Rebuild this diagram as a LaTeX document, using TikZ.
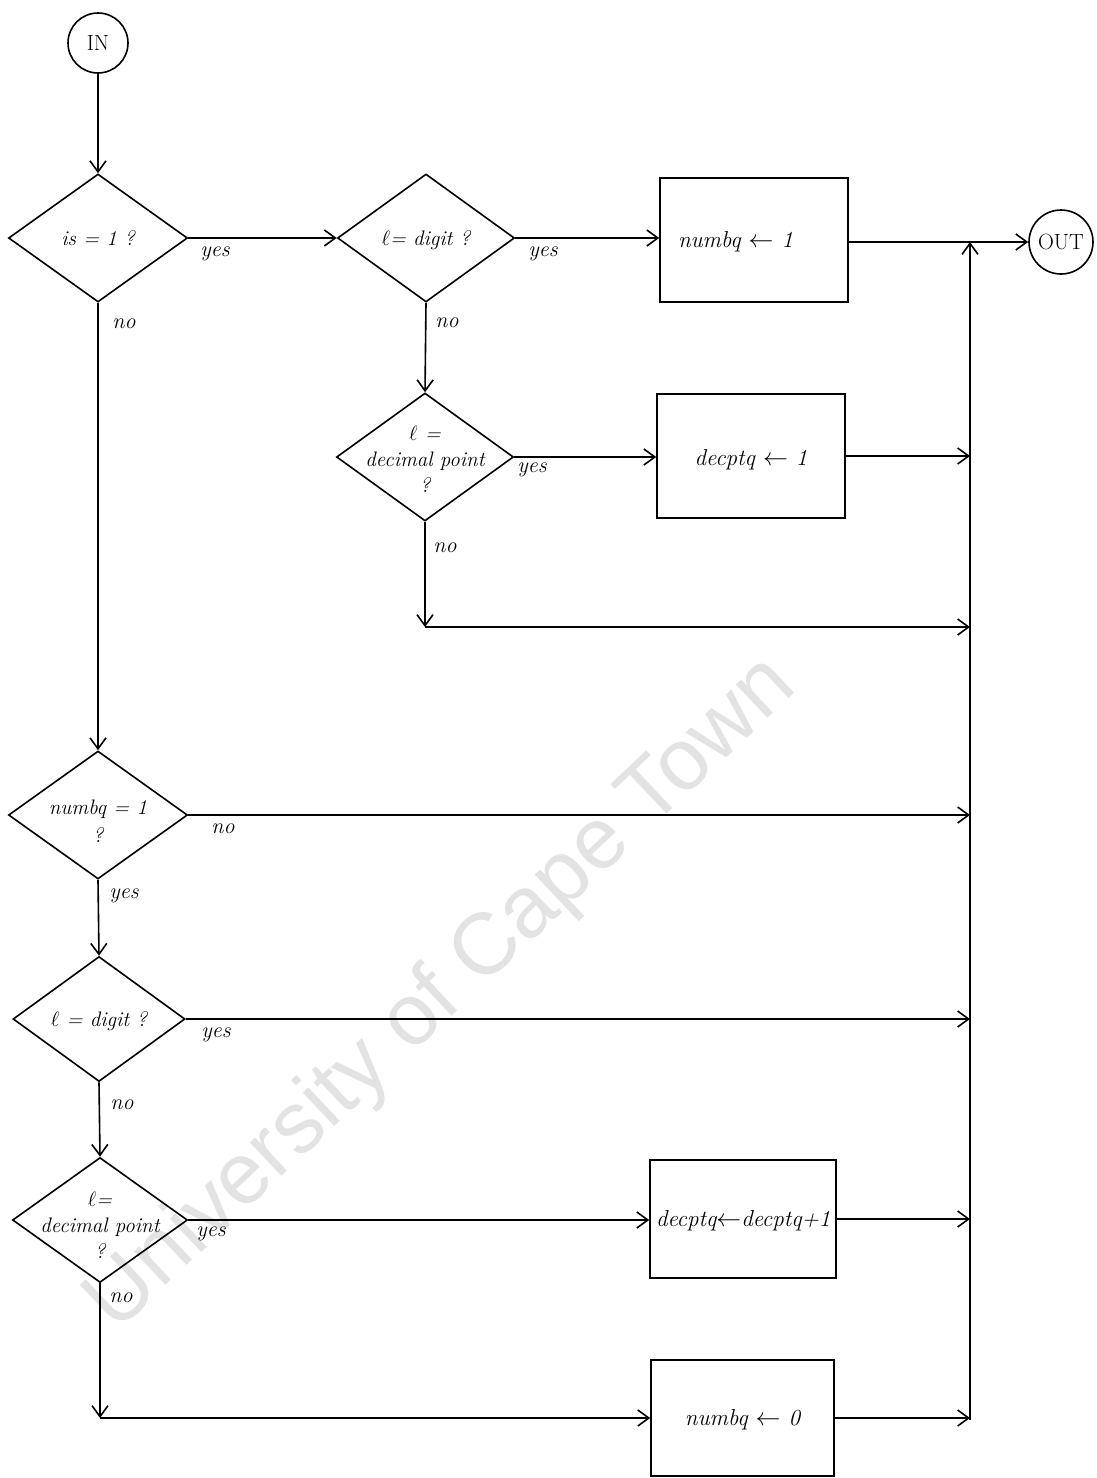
\documentclass[tikz,border=0pt]{standalone}
\usepackage{fontspec}
\newfontfamily\wmfont{Liberation Sans}
\usetikzlibrary{shapes.geometric,arrows.meta}
\begin{document}
\begin{tikzpicture}[x=1pt,y=-1pt,
  line width=1.6pt,
  dec/.style={draw,diamond,inner sep=0pt,minimum width=#1,minimum height=128pt},
  dec/.default=177pt,
  proc/.style={draw,rectangle,inner sep=0pt,minimum width=186pt,minimum height=122pt},
  term/.style={draw,circle,inner sep=0pt,minimum size=60pt,font=\fontsize{22}{24}\selectfont},
  txt/.style={font=\fontsize{23}{25}\selectfont\itshape,align=center,inner sep=0pt},
  dtxt/.style={font=\fontsize{21}{26}\selectfont\itshape,align=center,inner sep=0pt},
  lab/.style={font=\fontsize{22}{24}\selectfont\itshape,inner sep=0pt},
  arr/.style={-{Straight Barb[length=11pt,width=16pt,line width=1.6pt]}}
]
\useasboundingbox (0,0) rectangle (1097,1478);
\fill[white] (0,0) rectangle (1097,1478);
% watermark
\node[rotate=43.3,text=black!11,font=\fontsize{87}{87}\selectfont\wmfont,inner sep=0pt] (wm) at (442,995) {University of Cape Town};

% terminals
\node[term] (in) at (98,43) {IN};
\node[term,minimum size=64pt] (out) at (1061,242) {OUT};

% decisions
\node[dec=179pt] (d1) at (98,238) {};
\node[dtxt] (t1) at (d1.center) {is = 1 ?};
\node[dec] (d2) at (426,238) {};
\node[dtxt] (t2) at ([yshift=-2pt]d2.center) {$\ell$= digit ?};
\node[dec] (d3) at (425,457) {};
\node[dtxt] (t3) at ([yshift=-2pt]d3.center) {$\ell$ =\\decimal point\\?};
\node[dec=179pt] (d4) at (98,815) {};
\node[dtxt] (t4) at ([yshift=-6pt]d4.center) {numbq = 1\\[2pt]?};
\node[dec=172pt,minimum height=125pt] (d5) at (99,1019) {};
\node[dtxt] (t5) at ([yshift=-2pt]d5.center) {$\ell$ = digit ?};
\node[dec=175pt,minimum height=125pt] (d6) at (100,1220) {};
\node[dtxt] (t6) at ([yshift=-5pt]d6.center) {$\ell$=\\decimal point\\?};

% processes
\node[proc,minimum width=188pt,minimum height=124pt] (b1) at (754,240) {};
\node[txt,anchor=west] (tb1) at ([xshift=18pt,yshift=-2pt]b1.west) {numbq $\leftarrow$ 1};
\node[proc,minimum width=188pt,minimum height=124pt] (b2) at (751,456) {};
\node[txt] (tb2) at ([yshift=-4pt]b2.center) {decptq $\leftarrow$ 1};
\node[proc,minimum width=186pt,minimum height=118pt] (b3) at (743,1219) {};
\node[txt,anchor=west] (tb3) at ([xshift=6pt,yshift=-2pt]b3.west) {decptq$\leftarrow$decptq+1};
\node[proc,minimum width=183pt,minimum height=116pt] (b4) at (742.5,1418) {};
\node[txt] (tb4) at ([yshift=-2pt]b4.center) {numbq $\leftarrow$ 0};

% junction coordinates
\coordinate (colTop) at (970,242);
\coordinate (colBot) at (970,1420);
\coordinate (j3) at (425,627);
\coordinate (j6) at (100,1418);

% connectors
\draw[arr] (in) -- (d1.north);
\draw[arr] (d1.east) -- (d2.west);
\draw[arr] (d2.east) -- (d2.east -| b1.west);
\draw[arr] (b1.east |- out.west) -- (out.west);
\draw[arr] (d2.south) -- (d3.north);
\draw[arr] (d3.east) -- (d3.east -| b2.west);
\draw[arr] (b2.east) -- (b2.east -| colTop);
\draw[arr] (d3.south) -- (j3);
\draw[arr] (j3) -- (j3 -| colTop);
\draw[arr] (d1.south) -- (d4.north);
\draw[arr] (d4.east) -- (d4.east -| colTop);
\draw[arr] (d4.south) -- (d5.north);
\draw[arr] (d5.east) -- (d5.east -| colTop);
\draw[arr] (d5.south) -- (d6.north);
\draw[arr] (d6.east) -- (d6.east -| b3.west);
\draw[arr] (b3.east) -- (b3.east -| colTop);
\draw[arr] (d6.south) -- (j6);
\draw[arr] (j6) -- (b4.west);
\draw[arr] (b4.east) -- (b4.east -| colTop);
\draw[arr] (colBot) -- (colTop);

% branch labels
\node[lab] (y1) at (215,254) {yes};
\node[lab] (n1) at (124,324) {no};
\node[lab] (y2) at (543,254) {yes};
\node[lab] (n2) at (447,323) {no};
\node[lab] (y3) at (532,470) {yes};
\node[lab] (n3) at (445,548) {no};
\node[lab] (n4) at (223,829) {no};
\node[lab] (y4) at (124,896) {yes};
\node[lab] (y5) at (216,1035) {yes};
\node[lab] (n5) at (122,1105) {no};
\node[lab] (y6) at (211,1234) {yes};
\node[lab] (n6) at (121,1298) {no};
\end{tikzpicture}
\end{document}
